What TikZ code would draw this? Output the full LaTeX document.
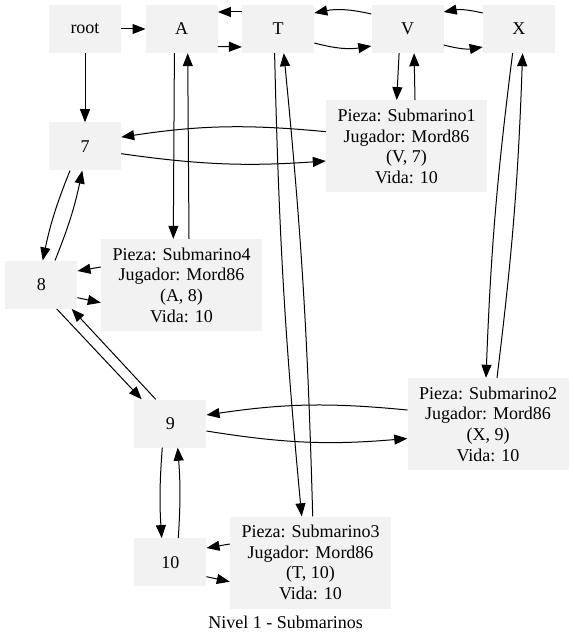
\documentclass[tikz,border=0pt]{standalone}
\usepackage{fontspec}
\setmainfont{Liberation Serif}
\usetikzlibrary{positioning, arrows.meta}

\begin{document}
\begin{tikzpicture}[x=1pt, y=-1pt,
	caja/.style={fill=gray!10, minimum width=72pt, minimum height=48pt, inner sep=0pt, font={\fontsize{18}{20.7}\selectfont}},
	pieza/.style={caja, minimum width=161pt, minimum height=92pt, align=center},
	flecha/.style={-{Triangle[length=13pt, width=10pt]}, line width=1pt}]
	\useasboundingbox (0,0) rectangle (573,644);
	
	\node [caja] (root) at (85,29) {root};
	\node [caja, right=24.3pt of root] (A) {A};
	\node [caja, right=24pt of A] (T) {T};
	\node [caja, right=57pt of T] (V) {V};
	\node [caja, right=39pt of V] (X) {X};
	
	\node [caja, below=69pt of root] (n7) {7};
	\node [pieza] (sub1) at (406.5,146.3) {Pieza: Submarino1\\Jugador: Mord86\\(V, 7)\\Vida: 10};
	\node [caja] (n8) at (41.3,284.7) {8};
	\node [pieza] (sub4) at (181.5,285) {Pieza: Submarino4\\Jugador: Mord86\\(A, 8)\\Vida: 10};
	\node [caja] (n9) at (170.3,423.5) {9};
	\node [pieza] (sub2) at (488,424) {Pieza: Submarino2\\Jugador: Mord86\\(X, 9)\\Vida: 10};
	\node [caja] (n10) at (170.3,562.3) {10};
	\node [pieza] (sub3) at (310.5,562.5) {Pieza: Submarino3\\Jugador: Mord86\\(T, 10)\\Vida: 10};
	
	\node [font={\fontsize{18}{20.7}\selectfont}] (titulo) at (285.5,622) {Nivel 1 - Submarinos};
	
	\draw [flecha] (root) -- (A);
	\draw [flecha] (root) -- (n7);
	\draw [flecha] ([yshift=-17.5pt]A.east) -- ([yshift=-18pt]T.west);
	\draw [flecha] ([yshift=17pt]T.west) -- ([yshift=17pt]A.east);
	\draw [flecha] ([yshift=-14pt]T.east) to[bend right=12] ([yshift=-17pt]V.west);
	\draw [flecha] ([yshift=15pt]V.west) to[bend right=12] ([yshift=16pt]T.east);
	\draw [flecha] ([yshift=-16pt]V.east) to[bend right=12] ([yshift=-18pt]X.west);
	\draw [flecha] ([yshift=16pt]X.west) to[bend right=12] ([yshift=17pt]V.east);
	
	\draw [flecha] ([xshift=-8.4pt]V.south) -- ([xshift=-9.8pt]sub1.north);
	\draw [flecha] ([xshift=8.5pt]sub1.north) -- ([xshift=6.6pt]V.south);
	\draw [flecha] ([yshift=14.6pt]sub1.west) to[bend right=7] ([yshift=9.3pt]n7.east);
	\draw [flecha] ([yshift=-7.3pt]n7.east) to[bend right=6] ([yshift=-14.7pt]sub1.west);
	
	\draw [flecha] ([xshift=-15pt]n7.south) to[bend right=5] ([xshift=1.4pt]n8.north);
	\draw [flecha] ([xshift=13.7pt]n8.north) to[bend right=5] ([xshift=-2.7pt]n7.south);
	\draw [flecha] ([xshift=-7.3pt]A.south) -- ([xshift=-8.2pt]sub4.north);
	\draw [flecha] ([xshift=7.5pt]sub4.north) -- ([xshift=6pt]A.south);
	\draw [flecha] ([yshift=18pt]sub4.west) -- ([yshift=13.7pt]n8.east);
	\draw [flecha] ([yshift=-13pt]n8.east) -- ([yshift=-17.7pt]sub4.west);
	
	\draw [flecha] ([xshift=15.4pt]n8.south) -- ([xshift=-28.6pt]n9.north);
	\draw [flecha] ([xshift=-14.6pt]n9.north) -- ([xshift=30.4pt]n8.south);
	\draw [flecha] ([xshift=-6.3pt]X.south) to[bend right=2.5] ([xshift=-2pt]sub2.north);
	\draw [flecha] ([xshift=9pt]sub2.north) to[bend right=2.5] ([xshift=3.7pt]X.south);
	\draw [flecha] ([yshift=14pt]sub2.west) to[bend right=7] ([yshift=8.5pt]n9.east);
	\draw [flecha] ([yshift=-7.5pt]n9.east) to[bend right=7] ([yshift=-14.5pt]sub2.west);
	
	\draw [flecha] ([xshift=-3.5pt]T.south) to[bend right=2] ([xshift=-8.8pt]sub3.north);
	\draw [flecha] ([xshift=2.2pt]sub3.north) to[bend right=2] ([xshift=5.7pt]T.south);
	\draw [flecha] ([xshift=-8pt]n9.south) to[bend right=4] ([xshift=-8.6pt]n10.north);
	\draw [flecha] ([xshift=8pt]n10.north) to[bend right=4] ([xshift=7.4pt]n9.south);
	\draw [flecha] ([yshift=18.5pt]sub3.west) -- ([yshift=14.3pt]n10.east);
	\draw [flecha] ([yshift=-14.4pt]n10.east) -- ([yshift=-19.2pt]sub3.west);
\end{tikzpicture}
\end{document}
